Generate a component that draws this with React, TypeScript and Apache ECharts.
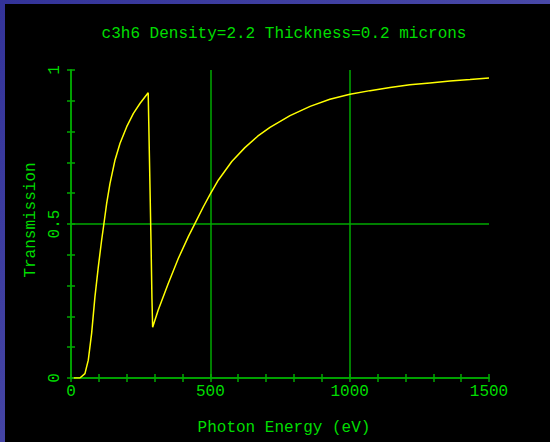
import React, { useEffect, useRef } from "react";
import * as echarts from "echarts";

const titleText = "c3h6 Density=2.2 Thickness=0.2 microns";
const xName = "Photon Energy (eV)";
const yName = "Transmission";
const xLabels = [0, 500, 1000, 1500];
const yLabels = [0, 0.5, 1];
const gridX = [500, 1000];
const gridY = [0.5];

const energy = [
  10, 32, 50, 62, 74, 86, 98, 110, 118, 128, 140, 158, 176, 200, 224, 248, 277,
  279, 283, 287, 290.5, 293,
  313, 349, 385, 421, 445, 475, 499, 529, 577, 624, 670, 714, 786, 858, 929,
  1001, 1073, 1145, 1216, 1288, 1360, 1432, 1500,
];
const transmission = [
  0, 0, 0.014, 0.058, 0.145, 0.264, 0.361, 0.448, 0.5, 0.567, 0.632, 0.708, 0.762,
  0.816, 0.859, 0.892, 0.926,
  0.832, 0.643, 0.448, 0.258, 0.165,
  0.221, 0.307, 0.388, 0.459, 0.502, 0.556, 0.596, 0.643, 0.703, 0.748, 0.785,
  0.814, 0.852, 0.882, 0.905, 0.921, 0.933, 0.943, 0.952, 0.958, 0.964,
  0.969, 0.974,
];

const GREEN_TEXT = "#00dd00";
const GREEN_LINE = "#00aa00";
const FONT = "Liberation Mono";

export default function App() {
  const ref = useRef<HTMLDivElement>(null);
  useEffect(() => {
    if (!ref.current) return;
    const chart = echarts.init(ref.current, undefined, { renderer: "svg" });
    const near = (v: number, arr: number[]) => arr.some((a) => Math.abs(a - v) < 1e-6);
    const axisCommon = {
      axisLine: { show: true, lineStyle: { color: GREEN_LINE, width: 1.5 } },
      axisTick: { show: true, inside: true, length: 4, lineStyle: { color: GREEN_LINE, width: 1.5 } },
      splitLine: { show: false },
    };
    const data = energy.map((e, i) => [e, transmission[i]]);
    chart.setOption({
      animation: false,
      backgroundColor: "#000",
      graphic: [
        {
          type: "text",
          x: 279,
          y: 30,
          style: {
            text: titleText,
            fill: GREEN_TEXT,
            font: `16px ${FONT}`,
            textAlign: "center",
            textVerticalAlign: "middle",
          },
        },
      ],
      grid: { left: 66, right: 61, top: 66, bottom: 64, containLabel: false },
      xAxis: [
        {
          type: "value",
          position: "bottom",
          min: 0,
          max: 1500,
          interval: 100,
          ...axisCommon,
          axisLabel: {
            color: GREEN_TEXT,
            fontFamily: FONT,
            fontSize: 16,
            margin: 6,
            formatter: (v: number) => (near(v, xLabels) ? String(v) : ""),
          },
          name: xName,
          nameLocation: "middle",
          nameGap: 42,
          nameTextStyle: { color: GREEN_TEXT, fontFamily: FONT, fontSize: 16, padding: [0, 0, 0, 8] },
        },
        {
          type: "value",
          position: "top",
          min: 0,
          max: 1500,
          interval: 100,
          ...axisCommon,
          axisLabel: { show: false },
        },
      ],
      yAxis: [
        {
          type: "value",
          position: "left",
          min: 0,
          max: 1,
          interval: 0.1,
          ...axisCommon,
          axisLabel: {
            color: GREEN_TEXT,
            fontFamily: FONT,
            fontSize: 16,
            rotate: 90,
            margin: 8,
            formatter: (v: number) => (near(v, yLabels) ? String(v) : ""),
          },
          name: yName,
          nameLocation: "middle",
          nameRotate: 90,
          nameGap: 30,
          nameTextStyle: { color: GREEN_TEXT, fontFamily: FONT, fontSize: 16, padding: [0, 0, 0, 8] },
        },
        {
          type: "value",
          position: "right",
          min: 0,
          max: 1,
          interval: 0.1,
          ...axisCommon,
          axisLabel: { show: false },
        },
      ],
      series: [
        {
          type: "line",
          data,
          showSymbol: false,
          symbol: "none",
          lineStyle: { color: "#ffff00", width: 1.5 },
          z: 3,
          markLine: {
            silent: true,
            symbol: "none",
            label: { show: false },
            lineStyle: { color: GREEN_LINE, width: 1.5, type: "solid" },
            data: [
              ...gridX.map((x) => ({ xAxis: x })),
              ...gridY.map((y) => ({ yAxis: y })),
            ],
            z: 1,
          },
        },
      ],
    });
    return () => chart.dispose();
  }, []);
  return (
    <div
      style={{
        position: "fixed",
        left: 0,
        top: 0,
        width: 550,
        height: 442,
        background: "linear-gradient(135deg, #333399 0%, #4a4aa8 60%, #5555aa 100%)",
      }}
    >
      <div
        ref={ref}
        style={{ position: "absolute", left: 5, top: 4, width: 545, height: 438 }}
      />
    </div>
  );
}
